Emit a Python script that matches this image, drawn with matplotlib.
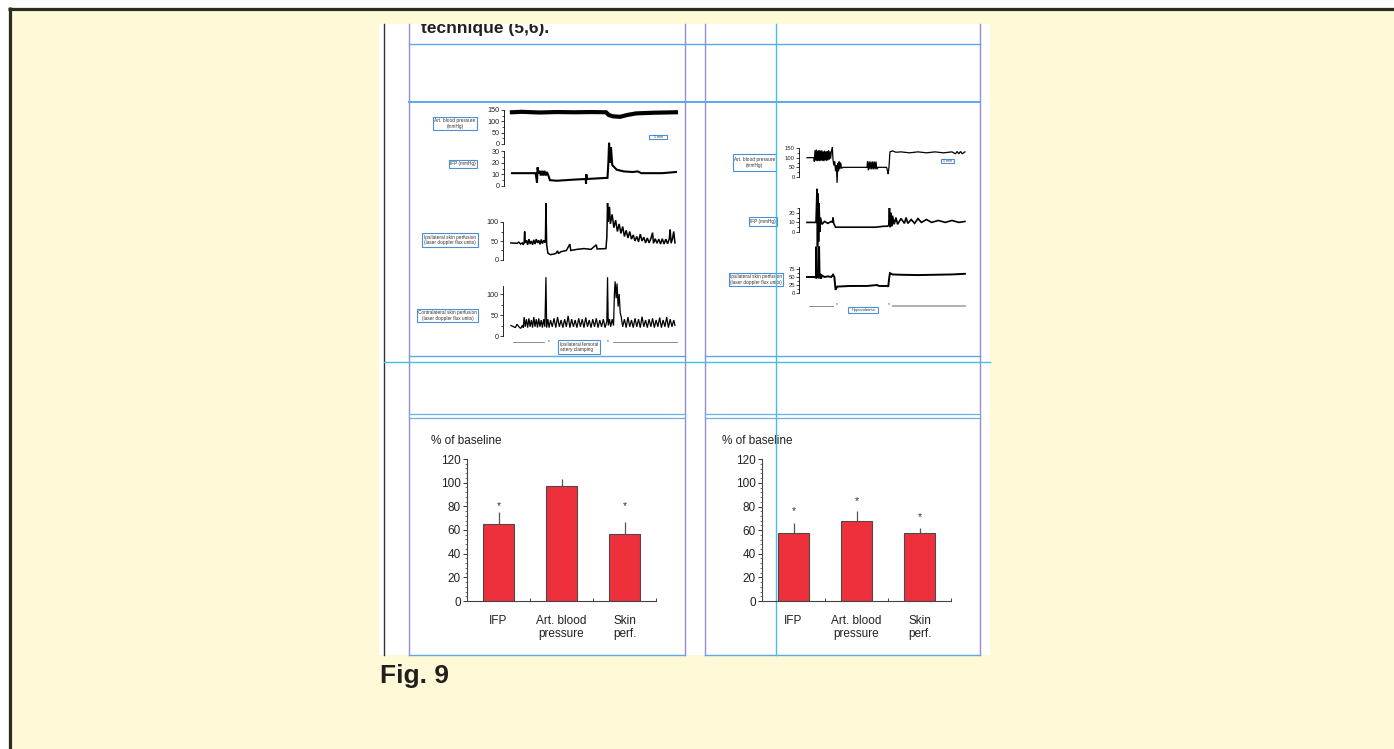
import matplotlib
matplotlib.use("Agg")
import matplotlib.pyplot as plt
from matplotlib.patches import Rectangle
from matplotlib.ticker import MultipleLocator

plt.rcParams['font.family'] = ['Liberation Sans', 'DejaVu Sans']

W, H = 1394, 749

# ---------------- data ----------------
# left recording (femoral artery clamping), time in arbitrary units 0..100
left_bp = [(4.5, 140), (10, 142), (20, 139), (30, 141), (40, 140), (50, 141), (58, 140),
           (59.5, 128), (62, 122), (66, 120), (70, 128), (75, 135), (85, 138), (97.7, 140)]
left_ifp = [(4.5, 11), (18, 11), (18.75, 3), (19.1, 16), (19.5, 11), (20.2, 13), (20.9, 9),
            (21.6, 13), (22.3, 9), (23.0, 13), (23.7, 9), (24.4, 12), (25.2, 9), (26.1, 5),
            (30, 4.5), (40, 5.5), (46.4, 6), (46.6, 2), (46.8, 10), (47, 6), (58.8, 7),
            (59.3, 20), (59.7, 37), (60.3, 20), (60.8, 33), (61.5, 18), (64, 14), (68, 12.5),
            (73, 12), (76, 12.5), (78, 11), (90, 11), (97.7, 12)]
left_ipsi = [(4.5, 45), (8, 44), (9, 47), (10, 42), (11, 45), (11.5, 40), (12, 45), (12.3, 75),
             (12.6, 45), (13.3, 52), (14, 40), (14.7, 55), (15.4, 42), (16.1, 50), (16.8, 40),
             (17.5, 53), (18.2, 42), (18.9, 55), (19.6, 45), (20.3, 52), (21, 41), (21.7, 54),
             (22.4, 43), (23.1, 52), (23.8, 46), (24.1, 50), (24.4, 150), (24.8, 40), (25.5, 18),
             (27, 14), (30, 17), (31, 24), (31.5, 17), (33, 22), (36, 25), (38, 42), (38.5, 25),
             (42, 28), (46, 30), (50, 28), (53, 40), (53.5, 29), (58.5, 30), (59, 60), (59.4, 150),
             (59.8, 100), (60.5, 140), (61, 95), (62, 120), (63, 85), (64, 105), (65, 75), (66, 95),
             (67, 70), (68, 88), (69, 62), (70, 78), (71, 58), (72, 75), (73, 55), (74, 66),
             (75, 50), (76, 62), (77, 48), (78, 68), (79, 50), (80, 60), (81, 45), (82, 58),
             (83, 45), (84, 56), (85, 72), (85.5, 44), (86.5, 56), (87.5, 44), (88.5, 55),
             (89.5, 42), (90.5, 56), (91.5, 42), (92.5, 55), (93.5, 43), (94.5, 56), (95, 80),
             (95.5, 44), (96.3, 56), (97, 75), (97.7, 45)]
left_contra = [(4.5, 25), (7, 20), (8, 28), (9, 22), (10, 18), (11, 25), (11.5, 20), (12, 45),
               (12.6, 22), (13.3, 40), (14, 20), (14.7, 42), (15.4, 22), (16.1, 38), (16.8, 20),
               (17.5, 45), (18.2, 22), (18.9, 40), (19.6, 20), (20.3, 42), (21, 22), (21.7, 38),
               (22.4, 20), (23.1, 40), (23.8, 22), (24.4, 140), (24.8, 20), (25.5, 40), (26.2, 20),
               (27, 38), (28, 22), (29, 42), (30, 20), (31, 45), (32, 22), (33, 38), (34, 20),
               (35, 40), (36, 22), (37, 48), (38, 20), (39, 40), (40, 22), (41, 38), (42, 20),
               (43, 42), (44, 22), (45, 40), (46, 20), (47, 44), (48, 22), (49, 38), (50, 20),
               (51, 40), (52, 22), (53, 42), (54, 20), (55, 38), (56, 22), (57, 40), (58, 20),
               (59, 35), (59.4, 140), (59.8, 25), (60.5, 40), (61.2, 22), (62, 40), (62.8, 25),
               (63.3, 100), (63.7, 130), (64.3, 90), (64.8, 125), (65.4, 70), (66, 100),
               (66.6, 55), (67.2, 45), (68, 22), (69, 40), (70, 20), (71, 45), (72, 22), (73, 38),
               (74, 20), (75, 42), (76, 22), (77, 40), (78, 20), (79, 46), (80, 22), (81, 38),
               (82, 20), (83, 40), (84, 22), (85, 42), (86, 20), (87, 38), (88, 22), (89, 44),
               (90, 20), (91, 38), (92, 22), (93, 45), (94, 20), (95, 40), (96, 22), (97, 38),
               (97.7, 25)]

# right recording (hypovolemia)
right_bp = [(4.7, 100), (8.8, 100), (9, 80), (9.4, 138), (9.8, 85), (10.2, 142), (10.6, 82),
            (11, 136), (11.4, 84), (11.8, 140), (12.2, 82), (12.6, 136), (13, 85), (13.4, 138),
            (13.8, 84), (14.2, 132), (14.6, 82), (15, 136), (15.4, 86), (15.8, 132), (16.2, 84),
            (16.6, 134), (17, 86), (17.4, 138), (17.8, 90), (18.2, 132), (18.6, 95), (19, 130),
            (19.6, 155), (20, 90), (20.5, 60), (21, 80), (21.5, 30), (22, 60), (22.4, -30),
            (22.8, 70), (23.2, 30), (23.6, 80), (24, 40), (24.5, 75), (25, 45), (26, 50),
            (40, 50), (40.3, 80), (40.8, 35), (41.3, 80), (41.8, 40), (42.3, 80), (42.8, 40),
            (43.3, 80), (43.8, 40), (44.3, 80), (44.8, 40), (45.3, 80), (45.8, 40), (46.5, 50),
            (51.5, 50), (52, 35), (52.5, 15), (53, 60), (53.5, 130), (55, 135), (57, 128),
            (60, 130), (65, 125), (70, 130), (75, 125), (80, 130), (85, 125), (90, 130),
            (92, 120), (93, 132), (94, 120), (95, 132), (96, 120), (97.6, 130)]
right_ifp = [(4.7, 10), (10, 10), (10.6, 45), (10.9, -15), (11.2, 40), (11.5, -10), (11.8, 30),
             (12.2, 0), (12.6, 15), (13.5, 8), (15, 11), (17, 9), (19, 11), (19.8, 10), (20, 15),
             (20.4, 9), (21.5, 5), (25, 5), (35, 5), (45, 5), (50, 6), (52, 6), (52.8, 7),
             (53.2, 25), (53.6, 5), (54, 20), (54.5, 6), (55, 17), (56, 8), (57, 15), (58, 8),
             (60, 14), (62, 9), (63, 15), (64, 9), (66, 13), (68, 9), (70, 14), (72, 10),
             (75, 13), (78, 10), (82, 12), (86, 10), (90, 12), (94, 10), (97.6, 11)]
right_skin = [(4.7, 50), (9, 50), (10, 48), (10.2, 145), (10.5, 50), (11.6, 48), (11.8, 145),
              (12.1, 50), (12.5, 60), (13, 45), (13.5, 55), (15, 50), (17, 52), (19, 50),
              (20, 57), (20.8, 50), (21.5, 10), (22.5, 20), (30, 22), (40, 22), (46, 25),
              (47, 22), (52, 22), (52.5, 20), (53, 45), (53.5, 62), (55, 58), (60, 57),
              (70, 56), (80, 57), (90, 58), (97.6, 60)]

# bar charts (% of baseline)
categories = ["IFP", "Art. blood\npressure", "Skin\nperf."]
clamp_values = [65, 97, 57]
clamp_errors = [10.5, 6, 9.5]
clamp_stars = [80, None, 80]
hypo_values = [57.7, 67.6, 57.7]
hypo_errors = [8.5, 8.5, 4.5]
hypo_stars = [76, 85, 71]
bar_ticks = [0, 20, 40, 60, 80, 100, 120]

# ---------------- helpers ----------------
fig = plt.figure(figsize=(W / 100, H / 100), dpi=100)
fig.patch.set_facecolor('white')


def px_axes(x0, ytop, x1, ybot):
    return fig.add_axes([x0 / W, 1 - ybot / H, (x1 - x0) / W, (ybot - ytop) / H])


page = fig.add_axes([0, 0, 1, 1])
page.set_xlim(0, W)
page.set_ylim(H, 0)
page.axis('off')

YELLOW = '#FEFAD8'
PURPLE = '#9C8BD2'
BLUE = '#5DA8E6'
CYAN = '#40C2DF'
BOXBLUE = '#4A90D9'

page.add_patch(Rectangle((8, 7), W, H, facecolor=YELLOW, edgecolor='none', zorder=0))
page.plot([8, W], [8.5, 8.5], color='#2b2b2b', lw=2.3, solid_capstyle='butt', zorder=1)
page.plot([9.5, 9.5], [7, H], color='#2b2b2b', lw=2.3, solid_capstyle='butt', zorder=1)

page_rect = Rectangle((379, 24), 611, 631, facecolor='white', edgecolor='none', zorder=1)
page.add_patch(page_rect)

title = page.text(421, 33, "technique (5,6).", fontsize=12.5, fontweight='bold',
                  color='#231f20', va='baseline', ha='left', zorder=3, clip_on=True)
title.set_clip_path(page_rect)

# page grid lines
page.plot([384, 384], [24, 655], color='#333333', lw=1.0, zorder=2)
for xv in [409, 685, 705, 980]:
    page.plot([xv, xv], [24, 655], color=PURPLE, lw=1.0, zorder=2)
page.plot([409, 980], [44, 44], color=BLUE, lw=1.0, zorder=2)
page.plot([409, 980], [102, 102], color=BLUE, lw=1.4, zorder=2)
for xa, xb in [(409, 685), (705, 980)]:
    page.plot([xa, xb], [356, 356], color=BLUE, lw=1.0, zorder=2)
    page.plot([xa, xb], [654.5, 654.5], color=BLUE, lw=1.0, zorder=2)
    page.add_patch(Rectangle((xa, 414), xb - xa, 4, facecolor='white', edgecolor='#6AB0E4',
                             lw=0.9, zorder=2))
page.plot([384, 990], [362, 362], color=CYAN, lw=1.0, zorder=2)
page.plot([776, 776], [24, 655], color=CYAN, lw=1.0, zorder=6)


def label_box(x0, y0, x1, y1, text, fs=3.4, ha='center'):
    page.add_patch(Rectangle((x0, y0), x1 - x0, y1 - y0, facecolor='white',
                             edgecolor=BOXBLUE, lw=0.8, zorder=3))
    tx = (x0 + x1) / 2 if ha == 'center' else x0 + 1.5
    page.text(tx, (y0 + y1) / 2, text, fontsize=fs, ha=ha, va='center',
              color='#333333', linespacing=1.1, zorder=4)


label_box(433, 117, 477, 130, "Art. blood pressure\n(mmHg)")
label_box(449, 160, 477, 168, "IFP (mmHg)")
label_box(649, 135, 667, 139, "1 min", fs=2.6)
label_box(422, 233, 478, 247, "Ipsilateral skin perfusion\n(laser doppler flux units)")
label_box(417, 309, 478, 322, "Contralateral skin perfusion\n(laser doppler flux units)")
label_box(558, 340, 600, 354, "Ipsilateral femoral\nartery clamping", ha='left')
label_box(733, 154, 776, 171, "Art. blood pressure\n(mmHg)")
label_box(749, 217, 777, 226, "IFP (mmHg)")
label_box(941, 159, 954, 163, "1 min", fs=2.6)
label_box(729, 273, 783, 286, "Ipsilateral skin perfusion\n(laser doppler flux units)")
label_box(848, 307, 878, 313, "Hypovolemia", fs=3.0)

# event markers below the recordings
page.plot([513, 544], [342, 342], color='#777777', lw=0.6, zorder=3)
page.plot([613, 677], [342, 342], color='#777777', lw=0.6, zorder=3)
page.plot([809, 833], [306, 306], color='#777777', lw=0.6, zorder=3)
page.plot([893, 965], [306, 306], color='#aaaaaa', lw=1.3, zorder=3)
for mx, my in [(549, 342), (608, 342), (837, 305), (889, 305)]:
    page.text(mx, my, "*", fontsize=3.5, ha='center', va='center', color='#333333', zorder=4)

# ---------------- recordings ----------------


def trace_axes(x0, x1, ytop, ybot, ylim, yticks, fs, minor):
    ax = px_axes(x0, ytop, x1, ybot)
    ax.set_xlim(0, 100)
    ax.set_ylim(*ylim)
    ax.patch.set_alpha(0)
    for s in ['top', 'right', 'bottom']:
        ax.spines[s].set_visible(False)
    ax.spines['left'].set_linewidth(0.6)
    ax.set_xticks([])
    ax.set_yticks(yticks)
    ax.yaxis.set_minor_locator(MultipleLocator(minor))
    ax.tick_params(axis='y', which='major', length=2, width=0.6, pad=1, labelsize=fs,
                   direction='out', colors='#222222')
    ax.tick_params(axis='y', which='minor', length=1.2, width=0.5, direction='out')
    return ax


def draw(ax, pairs, lw):
    t, v = zip(*pairs)
    ax.plot(t, v, color='black', lw=lw, clip_on=False, solid_joinstyle='miter')


ax = trace_axes(504, 680, 110, 144, (0, 150), [0, 50, 100, 150], 5.2, 25)
draw(ax, left_bp, 3.0)
ax = trace_axes(504, 680, 151, 186, (0, 30), [0, 10, 20, 30], 5.2, 5)
draw(ax, left_ifp, 1.5)
ax = trace_axes(503, 679, 222, 260, (0, 100), [0, 50, 100], 5.2, 25)
draw(ax, left_ipsi, 1.1)
ax = trace_axes(503, 679, 285.6, 336, (0, 120), [0, 50, 100], 5.2, 25)
draw(ax, left_contra, 0.9)

ax = trace_axes(799, 969, 148, 177, (0, 150), [0, 50, 100, 150], 4.2, 25)
draw(ax, right_bp, 0.9)
ax = trace_axes(799, 969, 208, 232, (0, 25), [0, 10, 20], 4.2, 5)
draw(ax, right_ifp, 1.2)
ax = trace_axes(799, 969, 267.4, 293, (0, 80), [0, 25, 50, 75], 4.2, 12.5)
draw(ax, right_skin, 1.4)

# ---------------- bar charts ----------------
RED = '#EE303C'


def bar_chart(x0, x1, ytop, values, errors, stars, label_x):
    ax = px_axes(x0, ytop, x1, 601)
    ax.patch.set_alpha(0)
    xs = [1, 2, 3]
    ax.bar(xs, values, width=0.5, color=RED, edgecolor='#4a4a4a', lw=0.8, zorder=2)
    ax.errorbar(xs, values, yerr=[[0] * 3, errors], fmt='none', ecolor='#555555',
                elinewidth=0.9, capsize=0, zorder=1)
    for x, s in zip(xs, stars):
        if s is not None:
            ax.text(x, s, "*", fontsize=7.5, ha='center', va='center', color='#333333')
    ax.set_xlim(0.5, 3.5)
    ax.set_ylim(0, 120)
    for s in ['top', 'right']:
        ax.spines[s].set_visible(False)
    for s in ['left', 'bottom']:
        ax.spines[s].set_linewidth(0.8)
        ax.spines[s].set_color('#444444')
    ax.set_yticks(bar_ticks)
    ax.yaxis.set_minor_locator(MultipleLocator(4))
    ax.tick_params(axis='y', which='major', length=3, width=0.7, pad=1.5, labelsize=8.5,
                   direction='out', colors='#333333', labelcolor='#222222')
    ax.tick_params(axis='y', which='minor', length=1.5, width=0.5, direction='out',
                   colors='#444444')
    ax.set_xticks(xs)
    ax.set_xticklabels(categories, fontsize=8.5, color='#222222', linespacing=1.15)
    ax.set_xticks([1.5, 2.5, 3.5], minor=True)
    ax.tick_params(axis='x', which='major', length=0, pad=10)
    ax.tick_params(axis='x', which='minor', length=2.5, width=0.7, direction='in',
                   colors='#444444')
    page.text(label_x, 441, "% of baseline", fontsize=8.5, ha='left', va='center',
              color='#222222', zorder=4)
    return ax


bar_chart(467, 656, 459, clamp_values, clamp_errors, clamp_stars, 431)
bar_chart(762, 951, 459.3, hypo_values, hypo_errors, hypo_stars, 722)

page.text(380, 683, "Fig. 9", fontsize=19, fontweight='bold', color='#231f20',
          ha='left', va='baseline', zorder=4)

fig.savefig("out.png", dpi=100, facecolor=fig.get_facecolor())
